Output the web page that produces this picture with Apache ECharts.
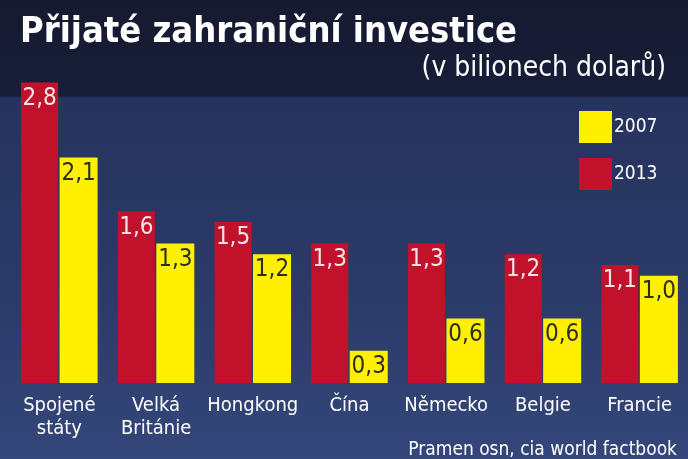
<!DOCTYPE html>
<html>
<head>
<meta charset="utf-8">
<script src="https://cdn.jsdelivr.net/npm/echarts@6/dist/echarts.min.js"></script>
<style>html,body{margin:0;padding:0;background:#1c2444;}#c{width:688px;height:459px;}</style>
</head>
<body>
<div id="c"></div>
<script>
var categories = ['Spojené\nstáty', 'Velká\nBritánie', 'Hongkong', 'Čína', 'Německo', 'Belgie', 'Francie'];
var values2013 = [2.8, 1.6, 1.5, 1.3, 1.3, 1.2, 1.1];
var values2007 = [2.1, 1.3, 1.2, 0.3, 0.6, 0.6, 1.0];
var seriesNames = ['2013', '2007'];

var FONT = '"Liberation Sans Narrow", "DejaVu Sans Condensed", sans-serif';
var chart = echarts.init(document.getElementById('c'));
function fmt(p) { return String(p.value.toFixed(1)).replace('.', ','); }
chart.setOption({
  backgroundColor: {
    type: 'linear', x: 0, y: 0, x2: 0, y2: 1,
    colorStops: [
      {offset: 0, color: '#151a30'},
      {offset: 0.208, color: '#181e38'},
      {offset: 0.214, color: '#26335e'},
      {offset: 0.6, color: '#2a3966'},
      {offset: 1, color: '#34467a'}
    ]
  },
  animation: false,
  title: [
    {text: 'Přijaté zahraniční investice', left: 15, top: 10,
     textStyle: {color: '#ffffff', fontFamily: FONT, fontWeight: 'bold', fontSize: 36}},
    {text: '(v bilionech dolarů)', right: 17, top: 50,
     textStyle: {color: '#ffffff', fontFamily: FONT, fontWeight: 'normal', fontSize: 28}},
    {text: 'Pramen osn, cia world factbook', right: 6, top: 436,
     textStyle: {color: '#ffffff', fontFamily: FONT, fontWeight: 'normal', fontSize: 19}}
  ],
  legend: {
    data: ['2007', '2013'], orient: 'vertical', left: 574, top: 106,
    itemWidth: 33, itemHeight: 32, itemGap: 15, icon: 'rect',
    textStyle: {color: '#ffffff', fontFamily: FONT, fontSize: 19, padding: [0, 0, 0, -3]}
  },
  grid: {left: 11, right: -4, top: 61, bottom: 76, containLabel: false},
  xAxis: {
    type: 'category', data: categories,
    axisLine: {show: false}, axisTick: {show: false},
    axisLabel: {color: '#ffffff', fontFamily: FONT, fontSize: 20, lineHeight: 23, margin: 11, interval: 0}
  },
  yAxis: {type: 'value', min: 0, max: 3, show: false, splitLine: {show: false}},
  series: [
    {name: seriesNames[0], type: 'bar', data: values2013, barWidth: 37, barGap: '4%',
     itemStyle: {color: '#c2112a'},
     label: {show: true, position: 'insideTop', distance: 4, formatter: fmt,
             color: '#f8e4e8', fontFamily: FONT, fontSize: 24}},
    {name: seriesNames[1], type: 'bar', data: values2007, barWidth: 38,
     itemStyle: {color: '#fff000'},
     label: {show: true, position: 'insideTop', distance: 4, formatter: fmt,
             color: '#2e2e20', fontFamily: FONT, fontSize: 24}}
  ]
});
</script>
</body>
</html>
